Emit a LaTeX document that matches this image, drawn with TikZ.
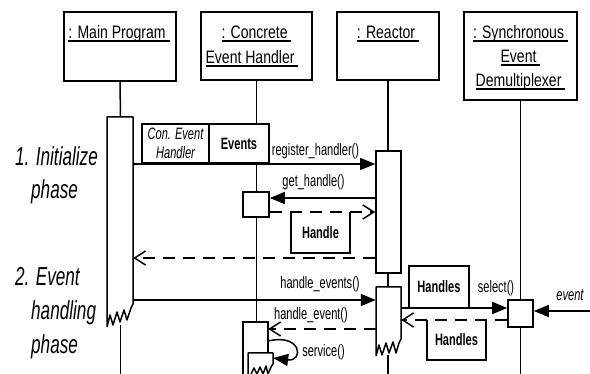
\documentclass[tikz,border=0pt]{standalone}
\usepackage{fontspec}
\setmainfont{Liberation Sans}[FakeStretch=0.78]
\newfontfamily\lblfont{Liberation Sans}[FakeStretch=0.67]
\newfontfamily\phfont{Liberation Sans}[FakeStretch=0.66]
\usetikzlibrary{arrows.meta,calc}
\newcommand\ulx[1]{\setbox0\hbox{#1\ }\rlap{\rule[-2.8pt]{\wd0}{1.3pt}}\box0}
\begin{document}
\begin{tikzpicture}[x=1pt,y=-1pt,
  lw/.style={line width=1.5pt},
  objbox/.style={draw,line width=1.7pt,fill=white,inner sep=0pt},
  head/.style={font=\fontsize{18}{20}\selectfont,inner sep=0pt,anchor=base},
  lbl/.style={font=\lblfont\fontsize{16.5}{19}\selectfont,inner sep=0pt,anchor=base},
  phase/.style={font=\phfont\fontsize{26}{30}\selectfont\itshape,inner sep=0pt,anchor=base west},
  bar/.style={fill=white,inner sep=0pt},
  bbar/.style={draw,line width=1.6pt,fill=white,inner sep=0pt},
  pbox/.style={draw,line width=1.6pt,fill=white,inner sep=0pt,align=center},
  bfl/.style={font=\lblfont\fontsize{16.5}{19}\selectfont\bfseries},
  call/.style={lw,-{Triangle[length=15pt,width=12pt]}},
  ret/.style={lw,dash pattern=on 12pt off 8pt,-{Straight Barb[length=11pt,width=14pt,line width=1.5pt]}},
]
\useasboundingbox (0,0) rectangle (590,374);
% object boxes
\node[objbox,minimum width=112pt,minimum height=69pt] (mp) at (120,46.5) {};
\node[objbox,minimum width=111pt,minimum height=68pt] (ceh) at (256.5,46) {};
\node[objbox,minimum width=102pt,minimum height=68pt] (re) at (388,46) {};
\node[objbox,minimum width=113pt,minimum height=88pt] (de) at (520.5,56) {};
\node[head] (mpt) at (119,39) {\ulx{: Main Program}};
\node[head] (ceht1) at (256.5,39) {\ulx{: Concrete}};
\node[head] (ceht2) at (252,64) {\ulx{Event Handler}};
\node[head] (ret1) at (388,39) {\ulx{: Reactor}};
\node[head] (det1) at (520.5,39) {\ulx{: Synchronous}};
\node[head] (det2) at (520.5,63) {\ulx{Event}};
\node[head] (det3) at (520.5,87) {\ulx{Demultiplexer}};
% lifelines
\coordinate (mpend) at (120.5,374);
\coordinate (cehend) at (256.5,374);
\coordinate (reend) at (388,374);
\coordinate (deend) at (520.5,374);
\draw[lw] (mp.south) -- (120.5,117);
\draw[lw] (120.5,318) -- (mpend);
\draw[lw] (ceh.south) -- (cehend);
\draw[lw] (re.south) -- (388,151);
\draw[lw] (388,273) -- (388,287);
\draw[lw] (388,350) -- (reend);
\draw[lw] (de.south) -- (deend);
% activation bars
\node[bar,minimum width=26pt,minimum height=208pt] (mbar) at (120,221) {};
\draw[lw,line join=round] (107,327) -- (107,117) -- (133,117) -- (133,304)
  -- (131,308) -- (127,320) -- (124,310) -- (120,322) -- (117,312) -- (113,325) -- (110,315) -- (107,327);
\node[bbar,minimum width=25pt,minimum height=122pt] (rb1) at (388.5,212) {};
\node[bar,minimum width=25pt,minimum height=68pt] (rb2) at (388.5,321) {};
\draw[lw,line join=round] (376,356) -- (376,287) -- (401,287) -- (401,339)
  -- (399,343) -- (396,353) -- (393,342) -- (389,353) -- (386,343) -- (382,355) -- (379,345) -- (376,356);
\node[bbar,minimum width=26pt,minimum height=25pt] (cb1) at (256,204.5) {};
\node[bar,minimum width=25pt,minimum height=52pt] (cb2) at (255.5,348) {};
\draw[lw] (243,374) -- (243,322) -- (268,322) -- (268,353);
\node[bar,minimum width=25pt,minimum height=21pt] (cb3) at (260.5,363.5) {};
\draw[lw,line join=round] (248,374) -- (248,353) -- (273,353) -- (273,364)
  -- (271,367) -- (268,374) -- (266,366) -- (263,374) -- (260,367) -- (257,374) -- (254,368) -- (251,374);
\node[bbar,minimum width=25pt,minimum height=27pt] (db) at (520.5,313.5) {};
% y levels
\coordinate (yreg) at (0,164);
\coordinate (yget) at (0,198);
\coordinate (yhr) at (0,212);
\coordinate (yret) at (0,258);
\coordinate (yhe) at (0,300);
\coordinate (yhev) at (0,329);
\coordinate (ysel) at (0,308);
\coordinate (ysr) at (0,320);
\coordinate (evsrc) at (590,311);
% messages
\draw[call] (mbar.east |- yreg) -- (rb1.west |- yreg);
\draw[call] (rb1.west |- yget) -- (cb1.east |- yget);
\node[bar,minimum width=59pt,minimum height=41pt] (hbox) at (320.5,232.5) {};
\draw[lw] (hbox.north west) -- (hbox.south west) -- (hbox.south east) -- (hbox.north east);
\node[inner sep=0pt,bfl] (hboxt) at (hbox.center) {Handle};
\draw[ret] (cb1.east |- yhr) -- (rb1.west |- yhr);
\draw[ret] (rb1.west |- yret) -- (mbar.east |- yret);
\draw[call] (mbar.east |- yhe) -- (rb2.west |- yhe);
\draw[ret] (rb2.west |- yhev) -- (cb2.east |- yhev);
\node[pbox,minimum width=60pt,minimum height=42pt,bfl] (hs1) at (439,287) {Handles};
\draw[call] (rb2.east |- ysel) -- (db.west |- ysel);
\node[bar,minimum width=59pt,minimum height=40pt] (hs2) at (456.5,340) {};
\draw[lw] (hs2.north west) -- (hs2.south west) -- (hs2.south east) -- (hs2.north east);
\node[inner sep=0pt,bfl] (hs2t) at (hs2.center) {Handles};
\draw[ret] (db.west |- ysr) -- (rb2.east |- ysr);
\draw[call] (evsrc) -- (db.east |- evsrc);
\draw[call] (cb2.east |- 0,341) .. controls (302,333) and (304,362) .. (cb3.east |- 0,358);
% parameter box
\node[pbox,minimum width=67pt,minimum height=39pt,font=\lblfont\fontsize{16.5}{19}\selectfont\itshape] (pa) at (175.5,143.5) {Con. Event\\Handler};
\node[pbox,minimum width=60pt,minimum height=39pt,bfl] (pb) at (239,143.5) {Events};
% labels
\node[lbl] (l1) at (315.5,156) {register\_handler()};
\node[lbl] (l2) at (313.5,187) {get\_handle()};
\node[lbl] (l3) at (320,289) {handle\_events()};
\node[lbl] (l4) at (311,320) {handle\_event()};
\node[lbl] (l5) at (496,293) {select()};
\node[lbl,font=\lblfont\fontsize{16.5}{19}\selectfont\itshape] (l6) at (570,301) {event};
\node[lbl] (l7) at (323.5,357) {service()};
\node[phase] (ph1) at (15,166) {1. Initialize};
\node[phase] (ph2) at (31,199) {phase};
\node[phase] (ph3) at (15,286) {2. Event};
\node[phase] (ph4) at (31,320) {handling};
\node[phase] (ph5) at (31,354) {phase};
\end{tikzpicture}
\end{document}
